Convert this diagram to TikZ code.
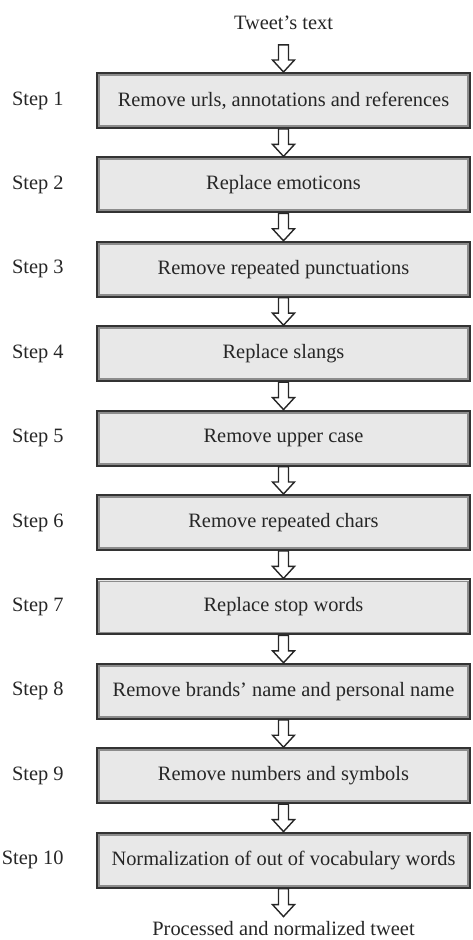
\documentclass[tikz,border=0pt]{standalone}
\usepackage{fontspec}
\setmainfont{Liberation Serif}
\usetikzlibrary{positioning, calc}
\tikzstyle{stepbox} = [rectangle, minimum width=186.5pt, minimum height=27.5pt,
text centered, draw=black!80, line width=1pt, fill=black!9, text=black!85,
path picture={\draw[black!45, line width=0.9pt]
([shift={(1pt,1pt)}]path picture bounding box.south west) rectangle
([shift={(-1pt,-1pt)}]path picture bounding box.north east);}]
\tikzstyle{steplabel} = [inner sep=0pt, text=black!85]
\tikzstyle{hollow} = [draw=black!85, line width=0.7pt, fill=white, line join=miter]
\newcommand{\flowarrow}[2]{%
\draw[hollow] ($(#1)+(-2.5pt,0)$) -- ($(#2)+(-2.5pt,6pt)$) -- ($(#2)+(-5.5pt,6pt)$)
-- (#2) -- ($(#2)+(5.5pt,6pt)$) -- ($(#2)+(2.5pt,6pt)$) -- ($(#1)+(2.5pt,0)$) -- cycle;}

\begin{document}
\begin{tikzpicture}[font=\fontsize{10.2}{12}\selectfont]
\useasboundingbox (0,0) rectangle (236pt,-470pt);

% Nodes
\node[text=black!85] (tweet) at (141.75pt,-11.5pt) {Tweet's text};

\node[stepbox] (remurls) at (141.75pt,-50.25pt) {Remove urls, annotations and references};
\node[stepbox, below=13.7pt of remurls] (emoticons) {Replace emoticons};
\node[stepbox, below=13.7pt of emoticons] (punct) {Remove repeated punctuations};
\node[stepbox, below=13.7pt of punct] (slangs) {Replace slangs};
\node[stepbox, below=13.7pt of slangs] (upper) {Remove upper case};
\node[stepbox, below=13.7pt of upper] (chars) {Remove repeated chars};
\node[stepbox, below=13.7pt of chars] (stopw) {Replace stop words};
\node[stepbox, below=13.7pt of stopw] (brands) {Remove brands' name and personal name};
\node[stepbox, below=13.7pt of brands] (numbers) {Remove numbers and symbols};
\node[stepbox, below=13.7pt of numbers] (oov) {Normalization of out of vocabulary words};

\node[text=black!85] (result) at (141.75pt,-464.3pt) {Processed and normalized tweet};

% Step labels
\node[steplabel, left=16pt of remurls] (s1) {Step 1};
\node[steplabel, left=16pt of emoticons] (s2) {Step 2};
\node[steplabel, left=16pt of punct] (s3) {Step 3};
\node[steplabel, left=16pt of slangs] (s4) {Step 4};
\node[steplabel, left=16pt of upper] (s5) {Step 5};
\node[steplabel, left=16pt of chars] (s6) {Step 6};
\node[steplabel, left=16pt of stopw] (s7) {Step 7};
\node[steplabel, left=16pt of brands] (s8) {Step 8};
\node[steplabel, left=16pt of numbers] (s9) {Step 9};
\node[steplabel, left=16pt of oov] (s10) {Step 10};

% Arrows
\coordinate (tweetout) at ($(tweet.south)+(0,-4pt)$);
\coordinate (resultin) at ($(oov.south)+(0,-14pt)$);
\flowarrow{tweetout}{remurls.north}
\flowarrow{remurls.south}{emoticons.north}
\flowarrow{emoticons.south}{punct.north}
\flowarrow{punct.south}{slangs.north}
\flowarrow{slangs.south}{upper.north}
\flowarrow{upper.south}{chars.north}
\flowarrow{chars.south}{stopw.north}
\flowarrow{stopw.south}{brands.north}
\flowarrow{brands.south}{numbers.north}
\flowarrow{numbers.south}{oov.north}
\flowarrow{oov.south}{resultin}

\end{tikzpicture}
\end{document}
